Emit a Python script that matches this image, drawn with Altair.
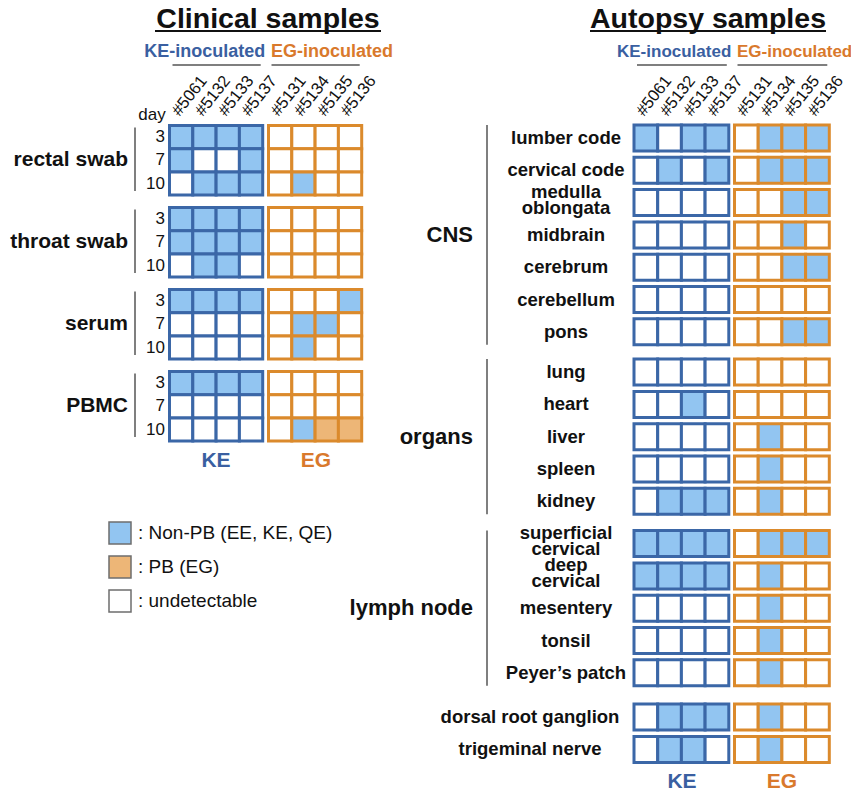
import altair as alt
import pandas as pd

# ---------------- data ----------------
ke_ids = ["#5061", "#5132", "#5133", "#5137"]
eg_ids = ["#5131", "#5134", "#5135", "#5136"]

# 0 = undetectable, 1 = Non-PB (EE, KE, QE), 2 = PB (EG); 4 KE columns then 4 EG columns
clin_groups = ["rectal swab", "throat swab", "serum", "PBMC"]
days = ["3", "7", "10"]
rectal_vals = [[1, 1, 1, 1, 0, 0, 0, 0], [1, 0, 0, 1, 0, 0, 0, 0], [0, 1, 1, 1, 0, 1, 0, 0]]
throat_vals = [[1, 1, 1, 1, 0, 0, 0, 0], [1, 1, 1, 1, 0, 0, 0, 0], [0, 1, 1, 0, 0, 0, 0, 0]]
serum_vals = [[1, 1, 1, 1, 0, 0, 0, 1], [0, 0, 0, 0, 0, 1, 1, 0], [0, 0, 0, 0, 0, 1, 0, 0]]
pbmc_vals = [[1, 1, 1, 1, 0, 0, 0, 0], [0, 0, 0, 0, 0, 0, 0, 0], [0, 0, 0, 0, 0, 1, 2, 2]]

cns_rows = ["lumber code", "cervical code", "medulla\noblongata", "midbrain", "cerebrum", "cerebellum", "pons"]
cns_vals = [[1, 0, 1, 1, 0, 1, 1, 1], [0, 1, 0, 1, 0, 1, 1, 1], [0, 0, 0, 0, 0, 0, 1, 1],
            [0, 0, 0, 0, 0, 0, 1, 0], [0, 0, 0, 0, 0, 0, 1, 1], [0, 0, 0, 0, 0, 0, 0, 0],
            [0, 0, 0, 0, 0, 0, 1, 1]]
organ_rows = ["lung", "heart", "liver", "spleen", "kidney"]
organ_vals = [[0, 0, 0, 0, 0, 0, 0, 0], [0, 0, 1, 0, 0, 0, 0, 0], [0, 0, 0, 0, 0, 1, 0, 0],
              [0, 0, 0, 0, 0, 1, 0, 0], [0, 1, 1, 1, 0, 1, 0, 0]]
lymph_rows = ["superficial\ncervical", "deep\ncervical", "mesentery", "tonsil", "Peyer\u2019s patch"]
lymph_vals = [[1, 1, 1, 1, 0, 1, 1, 1], [1, 1, 1, 1, 0, 1, 0, 0], [0, 0, 0, 0, 0, 1, 0, 0],
              [0, 0, 0, 0, 0, 1, 0, 0], [0, 0, 0, 0, 0, 1, 0, 0]]
other_rows = ["dorsal root ganglion", "trigeminal nerve"]
other_vals = [[0, 1, 1, 1, 0, 1, 0, 0], [0, 1, 1, 0, 0, 1, 0, 0]]

auto_group_names = ["CNS", "organs", "lymph node", ""]
legend_labels = [": Non-PB (EE, KE, QE)", ": PB (EG)", ": undetectable"]

# ---------------- styling ----------------
BLUE_EDGE = "#3B67A7"
ORANGE_EDGE = "#DB8A2C"
NONPB = "#92C5F1"
PB = "#EDB677"
BLUE_TXT = "#3A5FA1"
ORANGE_TXT = "#D9792C"
GRAY = "#555555"
FONT = "Liberation Sans"
fill_map = {0: "#FFFFFF", 1: NONPB, 2: PB}

# ---------------- layout ----------------
C_KE_X, C_EG_X, C_CW, C_RH = 169.5, 268.5, 23.3, 23.2
C_TOP, C_GPITCH = 125.5, 82.0
A_KE_X, A_EG_X, A_CW, A_BH = 634.0, 734.5, 23.7, 26.0
A_START, A_PITCH = 138.0, 32.3
A_GAPS = [8, 10, 12]
LINE_H = 16

cells, texts, rules = [], [], []


def add_text(layer, x, y, t, color="#111111"):
    texts.append(dict(layer=layer, x=x, y=y, t=t, c=color))


def add_rule(x, x2, y, y2, color=GRAY, w=1.5):
    rules.append(dict(x=x, x2=x2, y=y, y2=y2, c=color, w=w))


def col_x(c, ke_x, eg_x, cw):
    return (ke_x if c < 4 else eg_x) + (c % 4) * cw


# clinical grid
clin_vals = [rectal_vals, throat_vals, serum_vals, pbmc_vals]
for g, vals in enumerate(clin_vals):
    top = C_TOP + g * C_GPITCH
    for d, row in enumerate(vals):
        for c, v in enumerate(row):
            x0 = col_x(c, C_KE_X, C_EG_X, C_CW)
            cells.append(dict(x=x0, x2=x0 + C_CW, y=top + d * C_RH, y2=top + (d + 1) * C_RH,
                              fill=fill_map[v], stroke=BLUE_EDGE if c < 4 else ORANGE_EDGE))
            if c == 0:
                add_text("day", 165, top + (d + 0.5) * C_RH, days[d])
    add_text("cgroup", 128, top + 1.5 * C_RH, clin_groups[g])
    add_rule(135, 135, top + 2, top + 3 * C_RH - 4)
add_text("dayhdr", 152, 115, "day")

# autopsy grid
auto_sets = [(cns_rows, cns_vals), (organ_rows, organ_vals), (lymph_rows, lymph_vals), (other_rows, other_vals)]
yc = A_START
for gi, (names, vals) in enumerate(auto_sets):
    first = yc
    for r, (name, row) in enumerate(zip(names, vals)):
        for c, v in enumerate(row):
            x0 = col_x(c, A_KE_X, A_EG_X, A_CW)
            cells.append(dict(x=x0, x2=x0 + A_CW, y=yc - A_BH / 2, y2=yc + A_BH / 2,
                              fill=fill_map[v], stroke=BLUE_EDGE if c < 4 else ORANGE_EDGE))
        n_lines = name.count("\n") + 1
        ty = yc - (n_lines - 1) * (LINE_H / 2 + 3)
        add_text("arow", 566 if gi < 3 else 530, ty, name)
        last = yc
        yc += A_PITCH
    if auto_group_names[gi]:
        add_rule(487, 487, first - A_BH / 2, last + A_BH / 2)
        add_text("agroup", 473, (first + last) / 2, auto_group_names[gi])
    if gi < len(A_GAPS):
        yc += A_GAPS[gi]
a_bottom_y = last + 33

# headers for both panels
for (ke_x, eg_x, cw, title, tx, half, ty_b, kc, ec, inoc_layer) in [
        (C_KE_X, C_EG_X, C_CW, "Clinical samples", 268, 113, 461, 216, 316, "inoc18"),
        (A_KE_X, A_EG_X, A_CW, "Autopsy samples", 708, 118, a_bottom_y, 682, 782, "inoc17")]:
    add_text("title", tx, 18.5, title)
    add_rule(tx - half, tx + half, 31, 31, "#111111", 2)
    add_text(inoc_layer + "_r", ke_x + 4 * cw + 2.5, 52, "KE-inoculated", BLUE_TXT)
    add_text(inoc_layer + "_l", eg_x + 2.5, 52, "EG-inoculated", ORANGE_TXT)
    add_rule(ke_x + 3, ke_x + 4 * cw - 2, 65, 65)
    add_rule(eg_x + 3, eg_x + 4 * cw - 2, 65, 65)
    for i, lab in enumerate(ke_ids + eg_ids):
        add_text("ids", col_x(i, ke_x, eg_x, cw) + 6, 114, lab)
    add_text("bottom", kc, ty_b, "KE", BLUE_TXT)
    add_text("bottom", ec, ty_b, "EG", ORANGE_TXT)

# legend
leg_fills = [NONPB, PB, "#FFFFFF"]
for i, (lab, f) in enumerate(zip(legend_labels, leg_fills)):
    cy = 533 + i * 34
    cells.append(dict(x=109, x2=131, y=cy - 11, y2=cy + 11, fill=f, stroke="#6E6E6E", leg=True))
    add_text("legend", 138, cy, lab)

cells_df = pd.DataFrame(cells)
cells_df["sw"] = cells_df["leg"].fillna(False).map(lambda b: 1.5 if b else 3.0)
texts_df = pd.DataFrame(texts)
rules_df = pd.DataFrame(rules)

X = alt.X("x:Q", scale=alt.Scale(domain=[8, 851], nice=False, zero=False), axis=None)
Y = alt.Y("y:Q", scale=alt.Scale(domain=[792, 8], nice=False, zero=False), axis=None)

grid = alt.Chart(cells_df).mark_rect().encode(
    x=X, x2="x2:Q", y=Y, y2="y2:Q",
    fill=alt.Fill("fill:N", scale=None),
    stroke=alt.Stroke("stroke:N", scale=None),
    strokeWidth=alt.StrokeWidth("sw:Q", scale=None),
)

lines = alt.Chart(rules_df).mark_rule().encode(
    x=X, x2="x2:Q", y=Y, y2="y2:Q",
    color=alt.Color("c:N", scale=None),
    strokeWidth=alt.StrokeWidth("w:Q", scale=None),
)


def tl(layer, **kw):
    base = dict(font=FONT, baseline="middle")
    base.update(kw)
    return alt.Chart(texts_df).transform_filter(alt.datum.layer == layer).mark_text(**base).encode(
        x=X, y=Y, text="t:N", color=alt.Color("c:N", scale=None))


layers = [
    grid, lines,
    tl("title", fontSize=28.5, fontWeight="bold", align="center"),
    tl("inoc18_r", fontSize=18, fontWeight="bold", align="right"),
    tl("inoc18_l", fontSize=18, fontWeight="bold", align="left"),
    tl("inoc17_r", fontSize=17, fontWeight="bold", align="right"),
    tl("inoc17_l", fontSize=17, fontWeight="bold", align="left"),
    tl("ids", fontSize=16.5, align="left", angle=308),
    tl("day", fontSize=17, align="right"),
    tl("dayhdr", fontSize=17, align="center"),
    tl("cgroup", fontSize=21, fontWeight="bold", align="right"),
    tl("arow", fontSize=18.5, fontWeight="bold", align="center", lineBreak="\n", lineHeight=LINE_H),
    tl("agroup", fontSize=22, fontWeight="bold", align="right"),
    tl("bottom", fontSize=21, fontWeight="bold", align="center"),
    tl("legend", fontSize=19, align="left"),
]

chart = alt.layer(*layers).properties(
    width=843, height=784, padding=0, autosize=alt.AutoSizeParams(type="none")
).configure_view(stroke=None)

chart.save("out.html", embed_options={"renderer": "svg", "actions": False})
